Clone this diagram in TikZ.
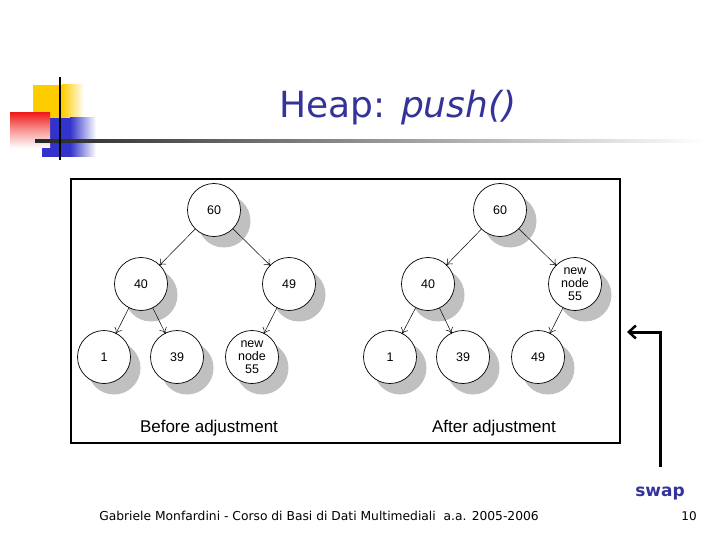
\documentclass[tikz,border=0pt]{standalone}
\usepackage{fontspec}
\setmainfont{DejaVu Sans}
\newfontfamily\arialf{Liberation Sans}
\usetikzlibrary{arrows.meta,shadows}
\definecolor{titleblue}{RGB}{51,51,153}
\definecolor{shadowgray}{RGB}{192,192,192}
\definecolor{logoyellow}{RGB}{255,204,0}
\definecolor{logored}{RGB}{240,30,30}
\definecolor{logoblue}{RGB}{51,51,204}
\begin{document}
\begin{tikzpicture}[x=1pt,y=-1pt,
  hnode/.style={circle,draw=black,line width=0.7pt,fill=white,minimum size=53pt,inner sep=0pt,
    font=\arialf\fontsize{12.5}{13}\selectfont,align=center,
    general shadow={shadow xshift=10pt,shadow yshift=-11pt,fill=shadowgray,draw=none}},
  edge/.style={-{To[length=6pt,width=8pt]},line width=0.5pt,shorten >=-1pt},
  caption/.style={font=\arialf\fontsize{17}{19}\selectfont},
]
\useasboundingbox (0,0) rectangle (720,540);
% logo
\fill[logoyellow] (33,85) rectangle (62,118);
\shade[left color=logoyellow,right color=white] (62,85) rectangle (84,118);
\fill[logoblue] (42,118) rectangle (70,157);
\shade[left color=logoblue,right color=white] (70,118) rectangle (96,157);
\shade[shading angle=225,top color=logored,bottom color=white,middle color=logored!45] (10,113) rectangle (50,148);
\shade[left color=black!85,right color=white] (35,139.8) rectangle (705,142.4);
\draw[line width=2pt] (60,77) -- (60,160);
% title
\node[font=\fontsize{36}{40}\selectfont,text=titleblue] (title) at (398,108) {Heap: \textit{push()}};
% frame
\node[draw=black,line width=1.6pt,minimum width=549pt,minimum height=264pt,inner sep=0pt] (box) at (345.5,311) {};
% left tree
\node[hnode] (a60) at (214,210) {60};
\node[hnode] (a40) at (141,284) {40};
\node[hnode] (a49) at (289,284) {49};
\node[hnode] (a1) at (104,357) {1};
\node[hnode] (a39) at (177,357) {39};
\node[hnode] (a55) at (252,357) {new\\node\\55};
\draw[edge] (a60) -- (a40);
\draw[edge] (a60) -- (a49);
\draw[edge] (a40) -- (a1);
\draw[edge] (a40) -- (a39);
\draw[edge] (a49) -- (a55);
\node[caption] (capa) at (209,428) {Before adjustment};
% right tree
\node[hnode] (b60) at (500,210) {60};
\node[hnode] (b40) at (428,284) {40};
\node[hnode] (b55) at (575,284) {new\\node\\55};
\node[hnode] (b1) at (390,357) {1};
\node[hnode] (b39) at (463,357) {39};
\node[hnode] (b49) at (538,357) {49};
\draw[edge] (b60) -- (b40);
\draw[edge] (b60) -- (b55);
\draw[edge] (b40) -- (b1);
\draw[edge] (b40) -- (b39);
\draw[edge] (b55) -- (b49);
\node[caption] (capb) at (494,428) {After adjustment};
% swap arrow
\coordinate (sw0) at (660,467);
\coordinate (sw1) at (627,332);
\draw[line width=3pt,-{Straight Barb[length=7pt,width=13pt,line width=2.5pt]}] (sw0) |- (sw1);
\node[font=\bfseries\fontsize{17}{19}\selectfont,text=titleblue] (swap) at (660,494) {swap};
% footer
\node[font=\fontsize{12.3}{14}\selectfont] (foot) at (319,516) {Gabriele Monfardini - Corso di Basi di Dati Multimediali\ \ a.a. 2005-2006};
\node[font=\fontsize{12}{14}\selectfont] (page) at (689,516) {10};
\end{tikzpicture}
\end{document}
